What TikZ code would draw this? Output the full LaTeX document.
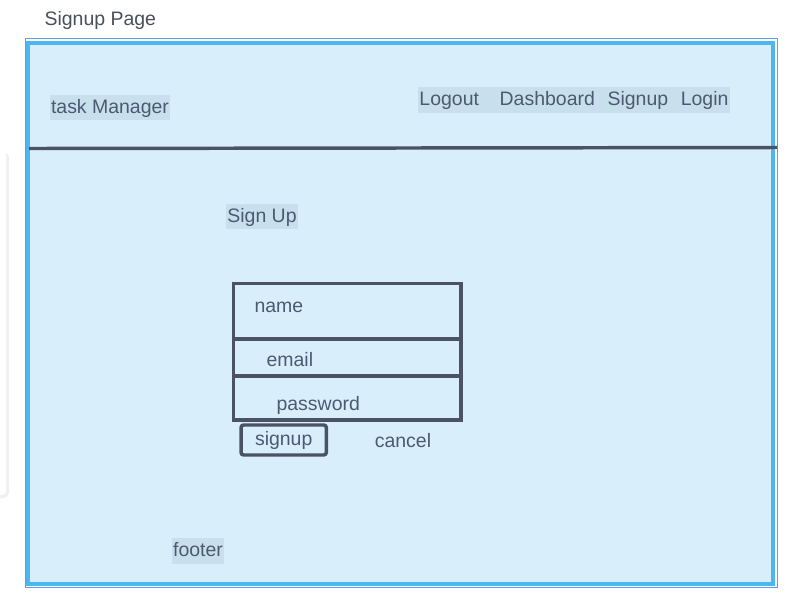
\documentclass[tikz,border=0pt]{standalone}
\usepackage{fontspec}
\setmainfont{Liberation Sans}
\usetikzlibrary{positioning}
\definecolor{bgblue}{HTML}{D8EFFB}
\definecolor{hlblue}{HTML}{C8E0EE}
\definecolor{frameblue}{HTML}{4DB6EE}
\definecolor{thinblue}{HTML}{5A9FE3}
\definecolor{ink}{HTML}{4B5264}
\definecolor{txt}{HTML}{4B5A72}
\definecolor{titletxt}{HTML}{4A4F5C}
\tikzset{
  lbl/.style={text=txt, inner sep=1pt, text height=10.5pt, text depth=3.5pt},
  hl/.style={lbl, fill=hlblue, inner ysep=2.4pt, text height=11.3pt, text depth=2.7pt},
  field/.style={draw=ink, line width=2.6pt, minimum width=170.6pt, inner sep=0pt, outer sep=0pt},
  btn/.style={draw=ink, line width=2.6pt, rounded corners=2pt, minimum width=64pt,
    minimum height=22.5pt, inner sep=0pt, text=txt, text height=11.3pt, text depth=2.7pt}
}
\begin{document}
\begin{tikzpicture}[x=0.75pt, y=-0.75pt, font=\fontsize{14.6pt}{17pt}\selectfont]
\useasboundingbox (0,0) rectangle (801,612);

% Seitenleiste links
\fill[black!6, rounded corners=4pt] (-12,152) rectangle (9,498);
\fill[white, rounded corners=3pt] (-12,150) rectangle (6,495);

% Rahmen
\draw[thinblue, line width=0.75pt] (25.3,38.3) rectangle (777,587);
\draw[frameblue, fill=bgblue, line width=3pt] (28.3,42.5) rectangle (773,584);
\draw[ink, line width=2.6pt] (29,148.5) -- (777,147.5);

% Titel
\node[lbl, text=titletxt, anchor=base west] (title) at (43,25) {Signup Page};

% Kopfzeile
\node[hl] (brand) at (110,107.5) {task Manager};
\node[hl] (nav) at (574,100) {Logout\hspace{15.5pt}Dashboard\hspace{9.5pt}Signup\hspace{9.5pt}Login};

% Formular
\node[hl] (heading) at (262,216.5) {Sign Up};
\node[field, minimum height=41.8pt, anchor=north west] (namebox) at (233.5,283.3) {};
\node[field, minimum height=27.75pt, below=0pt of namebox] (emailbox) {};
\node[field, minimum height=33pt, below=0pt of emailbox] (pwbox) {};
\node[lbl, anchor=base west] (namelbl) at (253,312) {name};
\node[lbl, anchor=base west] (emaillbl) at (265,366) {email};
\node[lbl, anchor=base west] (pwlbl) at (275,410) {password};

\node[btn] (btnsignup) at (283.7,440) {signup};
\node[lbl] (cancel) at (403,442.5) {cancel};

% Fusszeile
\node[hl] (footer) at (198,551) {footer};

\end{tikzpicture}
\end{document}
